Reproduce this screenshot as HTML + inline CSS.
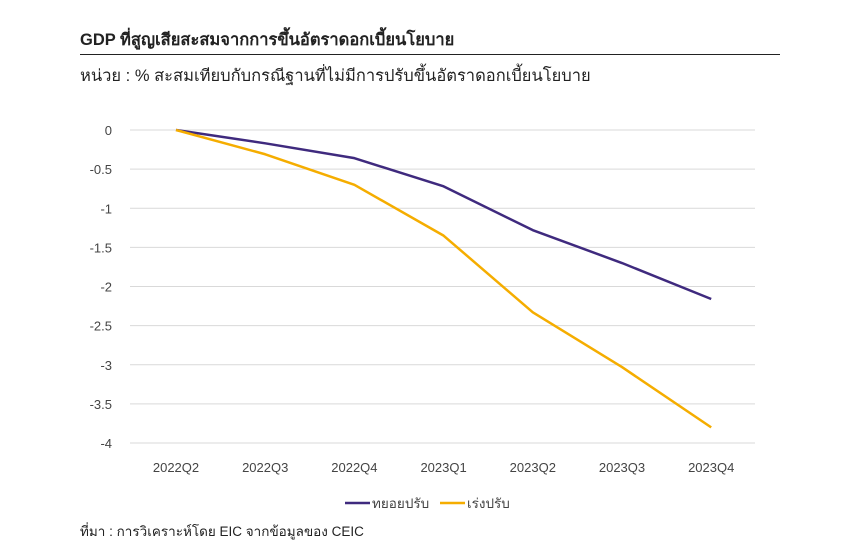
<!DOCTYPE html>
<html><head><meta charset="utf-8"><style>
body{margin:0;background:#fff;width:850px;height:550px;overflow:hidden;font-family:"Liberation Sans","Noto Sans CJK SC",sans-serif;color:#222}
.t{position:absolute;white-space:nowrap}
</style></head><body>
<div class="t" style="left:80px;top:27px;font-size:16.5px;font-weight:bold">GDP ที่สูญเสียสะสมจากการขึ้นอัตราดอกเบี้ยนโยบาย</div>
<div style="position:absolute;left:80px;top:54px;width:700px;height:1px;background:#222"></div>
<div class="t" style="left:80px;top:63px;font-size:16.5px">หน่วย : % สะสมเทียบกับกรณีฐานที่ไม่มีการปรับขึ้นอัตราดอกเบี้ยนโยบาย</div>
<svg id="c" width="850" height="550" style="position:absolute;left:0;top:0"></svg>
<div class="t" style="left:80px;top:520px;font-size:13.5px">ที่มา : การวิเคราะห์โดย EIC จากข้อมูลของ CEIC</div>
<script>
const categories=["2022Q2","2022Q3","2022Q4","2023Q1","2023Q2","2023Q3","2023Q4"];
const gradual=[0,-0.17,-0.36,-0.72,-1.28,-1.70,-2.16];
const aggressive=[0,-0.31,-0.70,-1.35,-2.33,-3.03,-3.80];
const yTicks=[0,-0.5,-1,-1.5,-2,-2.5,-3,-3.5,-4];
const yTickLabels=["0","-0.5","-1","-1.5","-2","-2.5","-3","-3.5","-4"];
const ns="http://www.w3.org/2000/svg",svg=document.getElementById('c');
const x=i=>176+i*89.2, y=v=>130+(-v)*78.25;
function mk(t,a){const e=document.createElementNS(ns,t);for(const k in a)e.setAttribute(k,a[k]);svg.appendChild(e);return e;}
yTicks.forEach((v,i)=>{
 const g=mk('line',{x1:130,x2:755,y1:y(v),y2:y(v),stroke:'#d9d9d9','stroke-width':1});
 
 
 const t=mk('text',{x:112,y:y(v)+5,'text-anchor':'end','font-size':13,fill:'#444'});
 t.textContent=yTickLabels[i];
 
 
});
categories.forEach((c,i)=>{
 const t=mk('text',{x:x(i),y:472,'text-anchor':'middle','font-size':13,fill:'#444'});
 t.textContent=c;
 
 
});
function series(d,col,name){
 const p=mk('polyline',{points:d.map((v,i)=>x(i)+','+y(v)).join(' '),fill:'none',stroke:col,'stroke-width':2.5,'stroke-linejoin':'round'});
 
 
}
series(gradual,'#3f2a7e','series-gradual');
series(aggressive,'#f5ad00','series-aggressive');
function leg(x0,col,label,name){
 const l=mk('line',{x1:x0,x2:x0+25,y1:503,y2:503,stroke:col,'stroke-width':2.5});
 
 
 const t=mk('text',{x:x0+27,y:508,'font-size':13.5,fill:'#444'});
 t.textContent=label;
 
 
}
leg(345,'#3f2a7e','ทยอยปรับ','legend-gradual');
leg(440,'#f5ad00','เร่งปรับ','legend-aggressive');
</script>
</body></html>
